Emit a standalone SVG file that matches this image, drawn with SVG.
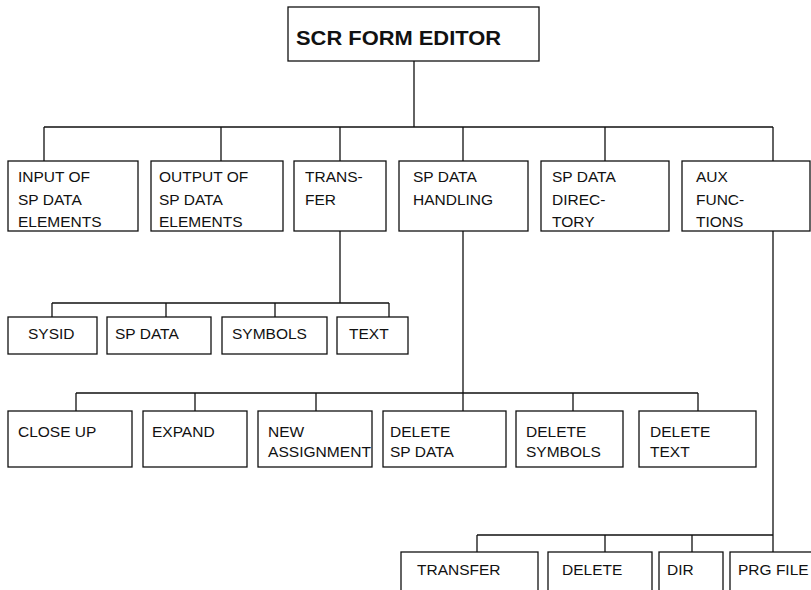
<svg xmlns="http://www.w3.org/2000/svg" width="811" height="590" viewBox="0 0 811 590">
<style>
.box{fill:#fff;stroke:#111;stroke-width:1.3}
.t{font-family:"Liberation Sans",Arial,Helvetica,sans-serif;font-size:15.5px;fill:#111}
.title{font-family:"Liberation Sans",Arial,Helvetica,sans-serif;font-size:20px;font-weight:bold;fill:#111}
.c{fill:none;stroke:#111;stroke-width:1.3}
</style>
<rect width="811" height="590" fill="#fff"/>
<g id="connectors" class="c">
<path d="M414 61V127M44 127H773M44 127V161M221 127V161M340 127V161M463 127V161M605 127V161M773 127V161"/>
<path d="M340 231V303M52 303H389M52 303V317M166 303V317M275 303V317M389 303V317"/>
<path d="M463 231V411M76 393H698M76 393V411M195 393V411M316 393V411M573 393V411M698 393V411"/>
<path d="M773 231V552M477 535H773M477 535V552M605 535V552M692 535V552"/>
</g>
<g id="root"><rect class="box" x="288" y="7" width="251" height="54"/><text class="title" x="296" y="45" textLength="205" lengthAdjust="spacingAndGlyphs">SCR FORM EDITOR</text></g>
<g id="input"><rect class="box" x="8" y="161" width="130" height="70"/><text class="t" x="18" y="182">INPUT OF</text><text class="t" x="18" y="204.5">SP DATA</text><text class="t" x="18" y="227">ELEMENTS</text></g>
<g id="output"><rect class="box" x="151" y="161" width="132" height="70"/><text class="t" x="159" y="182">OUTPUT OF</text><text class="t" x="159" y="204.5">SP DATA</text><text class="t" x="159" y="227">ELEMENTS</text></g>
<g id="transfer"><rect class="box" x="294" y="161" width="92" height="70"/><text class="t" x="305" y="182">TRANS-</text><text class="t" x="305" y="204.5">FER</text></g>
<g id="handling"><rect class="box" x="399" y="161" width="129" height="70"/><text class="t" x="413" y="182">SP DATA</text><text class="t" x="413" y="204.5">HANDLING</text></g>
<g id="directory"><rect class="box" x="541" y="161" width="128" height="70"/><text class="t" x="552" y="182">SP DATA</text><text class="t" x="552" y="204.5">DIREC-</text><text class="t" x="552" y="227">TORY</text></g>
<g id="aux"><rect class="box" x="682" y="161" width="128" height="70"/><text class="t" x="696" y="182">AUX</text><text class="t" x="696" y="204.5">FUNC-</text><text class="t" x="696" y="227">TIONS</text></g>
<g id="sysid"><rect class="box" x="8" y="317" width="89" height="37"/><text class="t" x="28" y="339">SYSID</text></g>
<g id="spdata"><rect class="box" x="107" y="317" width="104" height="37"/><text class="t" x="115" y="339">SP DATA</text></g>
<g id="symbols"><rect class="box" x="222" y="317" width="105" height="37"/><text class="t" x="232" y="339">SYMBOLS</text></g>
<g id="text"><rect class="box" x="337" y="317" width="71" height="37"/><text class="t" x="349" y="339">TEXT</text></g>
<g id="closeup"><rect class="box" x="8" y="411" width="124" height="56"/><text class="t" x="18" y="437">CLOSE UP</text></g>
<g id="expand"><rect class="box" x="143" y="411" width="104" height="56"/><text class="t" x="152" y="437">EXPAND</text></g>
<g id="newassign"><rect class="box" x="258" y="411" width="114" height="56"/><text class="t" x="268" y="437">NEW</text><text class="t" x="268" y="457" textLength="103" lengthAdjust="spacingAndGlyphs">ASSIGNMENT</text></g>
<g id="delspdata"><rect class="box" x="383" y="411" width="123" height="56"/><text class="t" x="390" y="437">DELETE</text><text class="t" x="390" y="457">SP DATA</text></g>
<g id="delsymbols"><rect class="box" x="516" y="411" width="107" height="56"/><text class="t" x="526" y="437">DELETE</text><text class="t" x="526" y="457">SYMBOLS</text></g>
<g id="deltext"><rect class="box" x="639" y="411" width="117" height="56"/><text class="t" x="650" y="437">DELETE</text><text class="t" x="650" y="457">TEXT</text></g>
<g id="auxtransfer"><rect class="box" x="401" y="552" width="137" height="50"/><text class="t" x="417" y="575">TRANSFER</text></g>
<g id="auxdelete"><rect class="box" x="548" y="552" width="104" height="50"/><text class="t" x="562" y="575">DELETE</text></g>
<g id="dir"><rect class="box" x="659" y="552" width="64" height="50"/><text class="t" x="667" y="575">DIR</text></g>
<g id="prgfile"><rect class="box" x="730" y="552" width="90" height="50"/><text class="t" x="738" y="575">PRG FILE</text></g>
</svg>
